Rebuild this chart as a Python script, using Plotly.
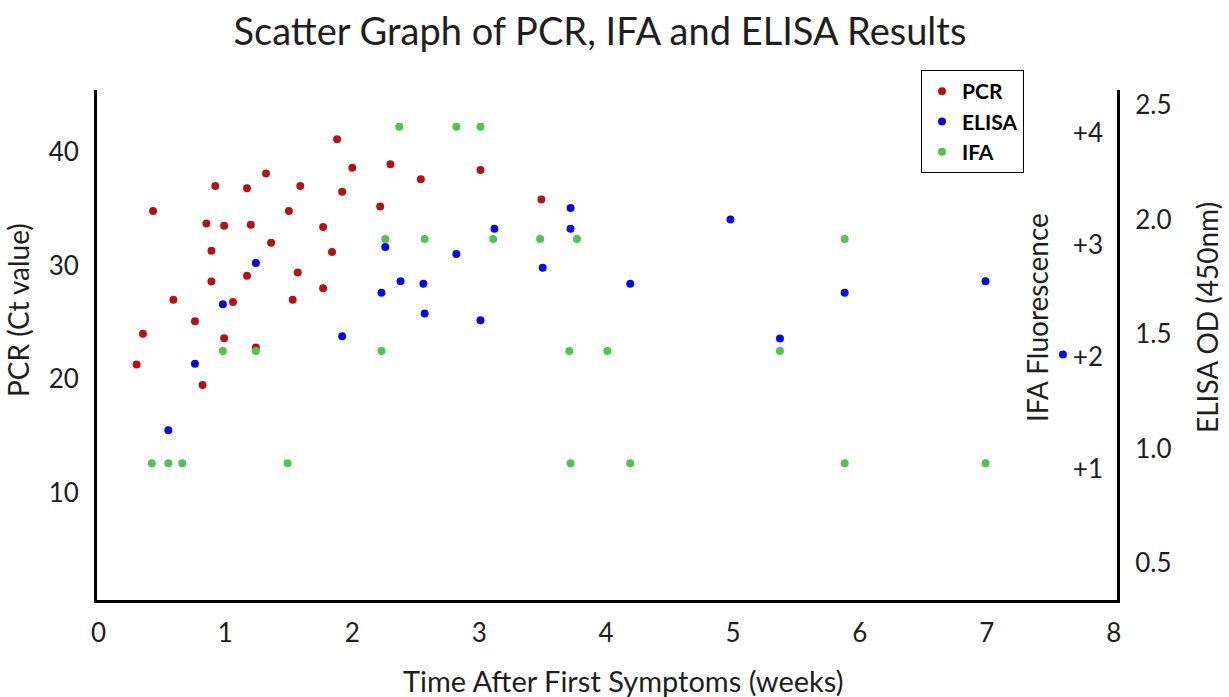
import plotly.graph_objects as go

# ---- data ----
pcr_weeks = [0.30, 0.35, 0.43, 0.59, 0.76, 0.82, 0.85, 0.89, 0.89, 0.92,
             0.99, 0.99, 1.06, 1.17, 1.17, 1.20, 1.24, 1.32, 1.36, 1.50,
             1.53, 1.57, 1.59, 1.77, 1.77, 1.84, 1.88, 1.92, 2.00, 2.22,
             2.30, 2.54, 3.01, 3.49]
pcr_ct = [21.3, 24.0, 34.8, 27.0, 25.1, 19.5, 33.7, 31.3, 28.6, 37.0,
          33.5, 23.6, 26.8, 36.8, 29.1, 33.6, 22.8, 38.1, 32.0, 34.8,
          27.0, 29.4, 37.0, 33.4, 28.0, 31.2, 41.1, 36.5, 38.6, 35.2,
          38.9, 37.6, 38.4, 35.8]

elisa_weeks = [0.55, 0.76, 0.98, 1.24, 1.92, 2.23, 2.26, 2.38, 2.56, 2.57,
               2.82, 3.01, 3.12, 3.50, 3.72, 3.72, 4.19, 4.98, 5.37, 5.88,
               6.99, 7.60]
elisa_od = [1.08, 1.37, 1.63, 1.81, 1.49, 1.68, 1.88, 1.73, 1.72, 1.59,
            1.85, 1.56, 1.96, 1.79, 1.96, 2.05, 1.72, 2.00, 1.48, 1.68,
            1.73, 1.41]

ifa_weeks = [0.42, 0.55, 0.66, 0.98, 1.24, 1.49, 2.23, 2.26, 2.37, 2.57,
             2.82, 3.01, 3.11, 3.48, 3.71, 3.72, 3.77, 4.01, 4.19, 5.37,
             5.88, 5.88, 6.99]
ifa_score = [1, 1, 1, 2, 2, 1, 2, 3, 4, 3,
             4, 4, 3, 3, 2, 1, 3, 2, 1, 2,
             3, 1, 1]

week_ticks = [0, 1, 2, 3, 4, 5, 6, 7, 8]
pcr_ticks = [10, 20, 30, 40]
elisa_ticks = [0.5, 1.0, 1.5, 2.0, 2.5]
elisa_tick_labels = ["0.5", "1.0", "1.5", "2.0", "2.5"]
ifa_ticks = [1, 2, 3, 4]
ifa_tick_labels = ["+1", "+2", "+3", "+4"]

RED = "#B01414"
BLUE = "#0A0ADC"
GREEN = "#50C350"
FONT = "Lato"
TXT = "#1e1e1e"

fig = go.Figure()
fig.add_trace(go.Scatter(x=pcr_weeks, y=pcr_ct, mode="markers", name="PCR",
                         marker=dict(color=RED, size=8), yaxis="y",
                         legendgroup="pcr"))
fig.add_trace(go.Scatter(x=elisa_weeks, y=elisa_od, mode="markers", name="ELISA",
                         marker=dict(color=BLUE, size=8), yaxis="y2",
                         legendgroup="elisa"))
fig.add_trace(go.Scatter(x=ifa_weeks, y=ifa_score, mode="markers", name="IFA",
                         marker=dict(color=GREEN, size=8), yaxis="y3",
                         legendgroup="ifa"))

axis_common = dict(showgrid=False, zeroline=False, ticks="",
                   linecolor="black", linewidth=3)


def vtitle(text, xpx, ypx, size=28):
    return dict(text=text, xref="paper", yref="paper",
                x=(xpx - 97) / 1020, y=(600 - ypx) / 510, textangle=-90,
                showarrow=False, xanchor="center", yanchor="middle",
                font=dict(family=FONT, size=size, color=TXT))


fig.update_layout(
    width=1229, height=697,
    margin=dict(l=97, r=112, t=90, b=97, autoexpand=False),
    paper_bgcolor="white", plot_bgcolor="white",
    font=dict(family=FONT, color=TXT),
    title=dict(text="Scatter Graph of PCR, IFA and ELISA Results",
               x=600 / 1229, xref="container", xanchor="center",
               y=1 - 32 / 697, yref="container", yanchor="middle",
               font=dict(family=FONT, size=38, color=TXT)),
    xaxis=dict(range=[-0.012, 8.026], tickvals=week_ticks, showline=True,
               tickfont=dict(size=26), ticklabelstandoff=8,
               **axis_common),
    yaxis=dict(range=[0.59, 45.44], tickvals=pcr_ticks, showline=True,
               tickfont=dict(size=26), ticklabelstandoff=10,
               **axis_common),
    yaxis2=dict(range=[0.338, 2.566], tickvals=elisa_ticks,
                ticktext=elisa_tick_labels, overlaying="y", side="right",
                anchor="x", showline=True, tickfont=dict(size=26),
                ticklabelstandoff=10, **axis_common),
    yaxis3=dict(range=[-0.218, 4.327], tickvals=ifa_ticks,
                ticktext=ifa_tick_labels, overlaying="y", side="left",
                anchor="free", position=1.0, showline=False,
                ticklabelshift=6, ticklabelstandoff=14,
                tickfont=dict(size=26), **axis_common),
    legend=dict(x=(921 - 97) / 1020, y=(600 - 70) / 510, xanchor="left",
                yanchor="top", bordercolor="black", borderwidth=1,
                bgcolor="white", tracegroupgap=0,
                font=dict(family=FONT, size=21, color="black", weight="bold")),
    annotations=[
        dict(text="Time After First Symptoms (weeks)", xref="paper",
             yref="paper", x=(623 - 97) / 1020, y=(600 - 681) / 510,
             showarrow=False, xanchor="center", yanchor="middle",
             font=dict(family=FONT, size=29, color=TXT)),
        vtitle("PCR (Ct value)", 18, 310),
        vtitle("IFA Fluorescence", 1037, 318),
        vtitle("ELISA OD (450nm)", 1207, 318),
    ],
)

fig.write_html("out.html",
               config={"displayModeBar": False},
               post_script="document.body.style.margin='0';"
                           "document.body.style.overflow='hidden';")
